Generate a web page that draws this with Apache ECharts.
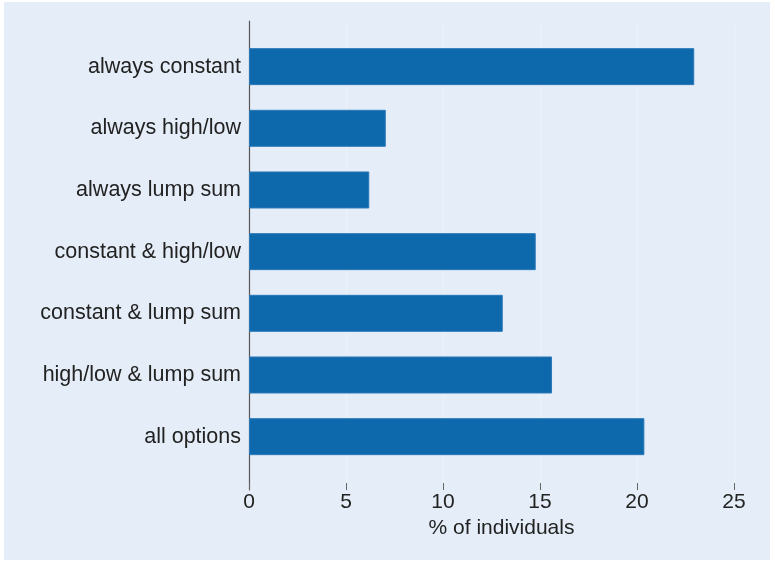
<!DOCTYPE html>
<html>
<head>
<meta charset="utf-8">
<script src="https://cdn.jsdelivr.net/npm/echarts@6/dist/echarts.min.js"></script>
<style>
  html, body { margin: 0; padding: 0; background: #ffffff; width: 775px; height: 563px; overflow: hidden; }
  #chart { position: absolute; left: 4px; top: 2px; width: 766px; height: 558px; }
</style>
</head>
<body>
<div id="chart"></div>
<script>
const categories = [
  'always constant',
  'always high/low',
  'always lump sum',
  'constant & high/low',
  'constant & lump sum',
  'high/low & lump sum',
  'all options'
];
const shares = [22.95, 7.05, 6.2, 14.78, 13.08, 15.62, 20.38];
const xMin = 0;
const xMax = 25;
const xStep = 5;
const xTitle = '% of individuals';

const FONT = 'Liberation Sans, Arial, Helvetica, sans-serif';
const chart = echarts.init(document.getElementById('chart'));
chart.setOption({
  backgroundColor: '#e5eef8',
  animation: false,
  textStyle: { fontFamily: FONT },
  grid: [
    { left: 245, right: 36, top: 33.8, bottom: 92.5 },
    { left: 245, right: 36, top: 19, bottom: 70 }
  ],
  xAxis: [
    {
      gridIndex: 0, type: 'value', min: xMin, max: xMax, interval: xStep,
      show: false
    },
    {
      gridIndex: 1, type: 'value', min: xMin, max: xMax, interval: xStep,
      axisLine: { show: false },
      axisTick: { show: true, inside: true, length: 7, lineStyle: { color: '#666', width: 1 } },
      axisLabel: { color: '#222', fontSize: 21, fontFamily: FONT, margin: 2 },
      splitLine: { show: true, lineStyle: { color: '#ebf2fa', width: 1 } },
      name: xTitle,
      nameLocation: 'middle',
      nameGap: 24,
      nameTextStyle: { color: '#222', fontSize: 21, fontFamily: FONT, padding: [0, 0, 0, 20] }
    }
  ],
  yAxis: [
    {
      gridIndex: 0, type: 'category', data: categories, inverse: true,
      axisLine: { show: false },
      axisTick: { show: false },
      axisLabel: { color: '#222', fontSize: 21.5, fontFamily: FONT, margin: 8, padding: [4, 0, 0, 0] },
      splitLine: { show: false }
    },
    {
      gridIndex: 1, type: 'value', min: 0, max: 1,
      axisLine: { show: true, lineStyle: { color: '#555', width: 1.2 } },
      axisTick: { show: false },
      axisLabel: { show: false },
      splitLine: { show: false }
    }
  ],
  series: [
    {
      type: 'bar',
      xAxisIndex: 0,
      yAxisIndex: 0,
      data: shares,
      barCategoryGap: '40%',
      itemStyle: { color: '#0e69ac', borderColor: '#2b78b8', borderWidth: 1 },
      z: 3
    }
  ]
});
</script>
</body>
</html>
